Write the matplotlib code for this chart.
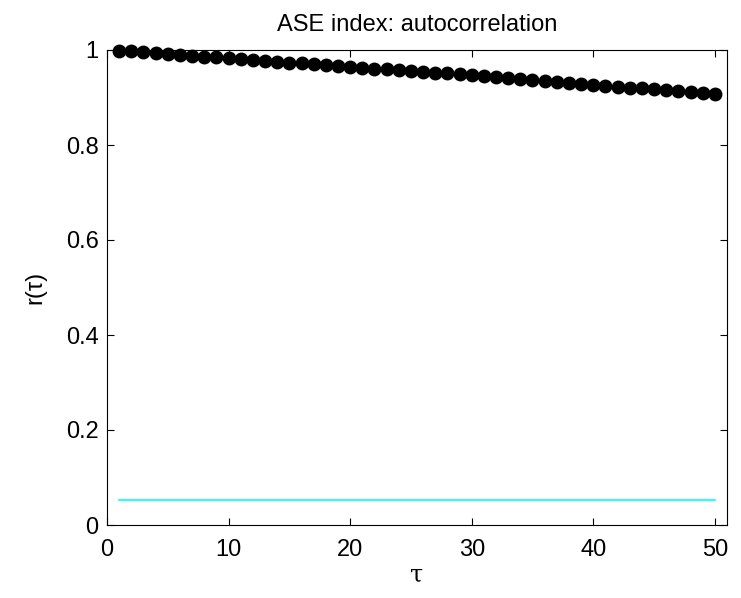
import matplotlib
matplotlib.use("Agg")
import matplotlib.pyplot as plt

lags = list(range(1, 51))
acf = [0.998, 0.997, 0.995, 0.993, 0.991, 0.989, 0.988, 0.986, 0.985, 0.983,
       0.981, 0.979, 0.976, 0.975, 0.973, 0.972, 0.970, 0.968, 0.967, 0.965,
       0.963, 0.961, 0.960, 0.958, 0.956, 0.953, 0.952, 0.951, 0.949, 0.947,
       0.945, 0.943, 0.941, 0.939, 0.937, 0.935, 0.933, 0.931, 0.928, 0.927,
       0.925, 0.923, 0.921, 0.919, 0.917, 0.915, 0.913, 0.911, 0.909, 0.907]
conf_level = 0.052
xticks = [0, 10, 20, 30, 40, 50]
yticks = [0, 0.2, 0.4, 0.6, 0.8, 1]
ytick_labels = ["0", "0.2", "0.4", "0.6", "0.8", "1"]

plt.rcParams['font.family'] = ['Liberation Sans', 'DejaVu Sans']
fs = 17

fig = plt.figure(figsize=(7.41, 5.98), dpi=100)
ax = fig.add_axes([107/741, 73/598, 620/741, 475/598])

ax.plot([lags[0], lags[-1]], [conf_level, conf_level], color='cyan', lw=1.2)
ax.plot(lags, acf, 'o', color='black', markersize=9, clip_on=False, zorder=5)

ax.set_xlim(0, 51)
ax.set_ylim(0, 1)
ax.set_xticks(xticks)
ax.set_yticks(yticks)
ax.set_yticklabels(ytick_labels)
ax.tick_params(direction='in', length=5, width=0.8, labelsize=fs, top=True, right=True,
               labeltop=False, labelright=False)
ax.tick_params(axis='x', pad=10)
ax.tick_params(axis='y', pad=6)
for s in ax.spines.values():
    s.set_linewidth(0.8)

ax.set_title('ASE index: autocorrelation', fontsize=fs, pad=14)
ax.set_xlabel('τ', fontsize=fs, family=['DejaVu Serif'], labelpad=2)
ax.set_ylabel('r(τ)', fontsize=fs, labelpad=14)

fig.savefig('out.png', dpi=100)
